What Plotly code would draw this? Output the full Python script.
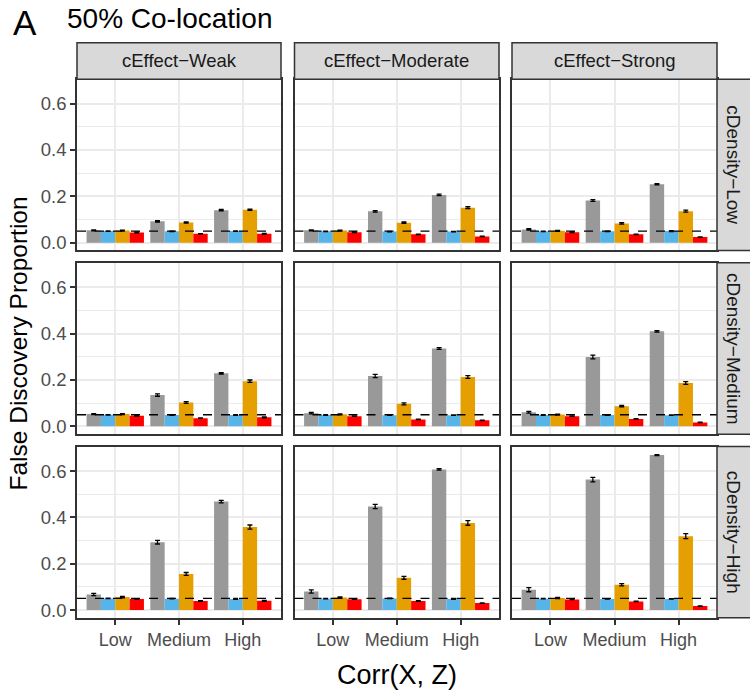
import plotly.graph_objects as go

# Factor levels
corr_levels = ["Low", "Medium", "High"]
effect_levels = ["cEffect\u2212Weak", "cEffect\u2212Moderate", "cEffect\u2212Strong"]
density_levels = ["cDensity\u2212Low", "cDensity\u2212Medium", "cDensity\u2212High"]

# False discovery proportion, indexed [density][effect][corr]
fdp_m1 = [
    [[0.053, 0.092, 0.140], [0.053, 0.135, 0.206], [0.057, 0.182, 0.252]],
    [[0.053, 0.135, 0.229], [0.057, 0.217, 0.336], [0.061, 0.299, 0.410]],
    [[0.067, 0.293, 0.468], [0.080, 0.447, 0.607], [0.088, 0.563, 0.669]],
]
fdp_m2 = [
    [[0.050, 0.049, 0.050], [0.049, 0.048, 0.048], [0.049, 0.049, 0.050]],
    [[0.050, 0.049, 0.049], [0.049, 0.048, 0.048], [0.049, 0.049, 0.048]],
    [[0.050, 0.049, 0.048], [0.049, 0.050, 0.048], [0.049, 0.048, 0.048]],
]
fdp_m3 = [
    [[0.052, 0.087, 0.142], [0.052, 0.086, 0.151], [0.051, 0.083, 0.136]],
    [[0.053, 0.103, 0.195], [0.052, 0.097, 0.213], [0.051, 0.087, 0.187]],
    [[0.056, 0.156, 0.358], [0.054, 0.139, 0.376], [0.052, 0.109, 0.319]],
]
fdp_m4 = [
    [[0.044, 0.038, 0.038], [0.045, 0.036, 0.027], [0.045, 0.036, 0.024]],
    [[0.046, 0.035, 0.039], [0.044, 0.030, 0.026], [0.044, 0.032, 0.017]],
    [[0.048, 0.039, 0.040], [0.047, 0.039, 0.030], [0.046, 0.037, 0.017]],
]

# Standard errors, same indexing
se_m1 = [
    [[0.002, 0.003, 0.003], [0.002, 0.003, 0.003], [0.003, 0.004, 0.003]],
    [[0.002, 0.005, 0.003], [0.003, 0.007, 0.004], [0.004, 0.008, 0.003]],
    [[0.005, 0.008, 0.005], [0.007, 0.009, 0.003], [0.009, 0.010, 0.002]],
]
se_m2 = [
    [[0.001, 0.001, 0.001], [0.001, 0.001, 0.001], [0.001, 0.001, 0.002]],
    [[0.001, 0.001, 0.002], [0.001, 0.001, 0.001], [0.001, 0.001, 0.001]],
    [[0.001, 0.001, 0.002], [0.001, 0.001, 0.002], [0.001, 0.001, 0.001]],
]
se_m3 = [
    [[0.002, 0.003, 0.003], [0.002, 0.003, 0.004], [0.002, 0.003, 0.004]],
    [[0.002, 0.004, 0.005], [0.002, 0.004, 0.006], [0.002, 0.003, 0.006]],
    [[0.003, 0.006, 0.009], [0.003, 0.006, 0.010], [0.003, 0.005, 0.011]],
]
se_m4 = [
    [[0.002, 0.001, 0.002], [0.002, 0.001, 0.001], [0.002, 0.001, 0.001]],
    [[0.002, 0.001, 0.002], [0.001, 0.001, 0.001], [0.001, 0.001, 0.001]],
    [[0.001, 0.002, 0.002], [0.001, 0.002, 0.001], [0.001, 0.001, 0.001]],
]

nominal_level = 0.05
y_ticks = [0.0, 0.2, 0.4, 0.6]

methods = [
    ("M1", fdp_m1, se_m1, "#999999"),
    ("M2", fdp_m2, se_m2, "#56B4E9"),
    ("M3", fdp_m3, se_m3, "#E69F00"),
    ("M4", fdp_m4, se_m4, "#FF0000"),
]

W, H = 750, 698
col_px = [(77, 281), (294.5, 499), (512, 717)]
row_px = [(79.5, 251.5), (264, 436), (448.5, 620.5)]
strip_top = (43, 79.5)
strip_right = (717, 750)

ymax = max(max(max(v) for v in row) for row in fdp_m1) + 0.003
pad = 0.05 * ymax
y_range = [-pad, ymax + pad]

FONT = "Liberation Sans"
BORDER = "#333333"
GRID = "#EBEBEB"

fig = go.Figure()
layout = {}
shapes = []
annotations = []

def px_x(x):
    return x / W

def px_y(y):
    return 1 - y / H

for r in range(3):
    for c in range(3):
        k = r * 3 + c + 1
        xa = "x" if k == 1 else f"x{k}"
        ya = "y" if k == 1 else f"y{k}"
        for name, vals, errs, color in methods:
            fig.add_trace(go.Bar(
                x=corr_levels,
                y=vals[r][c],
                name=name,
                offsetgroup=name,
                marker=dict(color=color, line=dict(width=0)),
                error_y=dict(type="data", array=errs[r][c], color="black",
                             thickness=1.3, width=2.5),
                xaxis=xa, yaxis=ya,
                showlegend=False,
            ))
        x0, x1 = col_px[c]
        y0, y1 = row_px[r]
        layout["xaxis" if k == 1 else f"xaxis{k}"] = dict(
            domain=[px_x(x0), px_x(x1)],
            anchor=ya,
            type="category",
            range=[-0.6, 2.6],
            showgrid=True, gridcolor=GRID, gridwidth=1.8,
            showline=True, mirror=True, linecolor=BORDER, linewidth=1.5,
            zeroline=False,
            ticks="outside" if r == 2 else "",
            ticklen=5, tickwidth=1.5, tickcolor=BORDER,
            showticklabels=(r == 2),
            tickfont=dict(family=FONT, size=18, color="#4D4D4D"),
            fixedrange=True,
        )
        layout["yaxis" if k == 1 else f"yaxis{k}"] = dict(
            domain=[px_y(y1), px_y(y0)],
            anchor=xa,
            range=y_range,
            tickvals=y_ticks,
            ticktext=[f"{v:.1f}" for v in y_ticks],
            showgrid=True, gridcolor=GRID, gridwidth=1.8,
            minor=dict(showgrid=True, gridcolor=GRID, gridwidth=0.9,
                       tickvals=[0.1, 0.3, 0.5]),
            showline=True, mirror=True, linecolor=BORDER, linewidth=1.5,
            zeroline=False,
            ticks="outside" if c == 0 else "",
            ticklen=5, tickwidth=1.5, tickcolor=BORDER,
            showticklabels=(c == 0),
            tickfont=dict(family=FONT, size=18.5, color="#4D4D4D"),
            fixedrange=True,
        )
        # nominal FDR reference line
        shapes.append(dict(
            type="line", xref=f"{xa} domain", yref=ya,
            x0=0, x1=1, y0=nominal_level, y1=nominal_level,
            line=dict(color="black", width=1.3, dash="dash"),
            layer="above",
        ))

# column strips
for c, label in enumerate(effect_levels):
    x0, x1 = col_px[c]
    shapes.append(dict(
        type="rect", xref="paper", yref="paper",
        x0=px_x(x0), x1=px_x(x1), y0=px_y(strip_top[1]), y1=px_y(strip_top[0]),
        fillcolor="#D9D9D9", line=dict(color=BORDER, width=1.5), layer="above",
    ))
    annotations.append(dict(
        text=label, xref="paper", yref="paper",
        x=px_x((x0 + x1) / 2), y=px_y((strip_top[0] + strip_top[1]) / 2),
        showarrow=False, xanchor="center", yanchor="middle",
        font=dict(family=FONT, size=18.5, color="#1A1A1A"),
    ))

# row strips
for r, label in enumerate(density_levels):
    y0, y1 = row_px[r]
    shapes.append(dict(
        type="rect", xref="paper", yref="paper",
        x0=px_x(strip_right[0]), x1=px_x(strip_right[1] + 2),
        y0=px_y(y1), y1=px_y(y0),
        fillcolor="#D9D9D9", line=dict(color=BORDER, width=1.5), layer="above",
    ))
    annotations.append(dict(
        text=label, xref="paper", yref="paper",
        x=px_x((strip_right[0] + strip_right[1]) / 2), y=px_y((y0 + y1) / 2),
        showarrow=False, xanchor="center", yanchor="middle", textangle=90,
        font=dict(family=FONT, size=19, color="#1A1A1A"),
    ))

# titles
annotations += [
    dict(text="A", xref="paper", yref="paper", x=px_x(11), y=px_y(23),
         showarrow=False, xanchor="left", yanchor="middle",
         font=dict(family=FONT, size=35, color="black")),
    dict(text="50% Co-location", xref="paper", yref="paper", x=px_x(65), y=px_y(19),
         showarrow=False, xanchor="left", yanchor="middle",
         font=dict(family=FONT, size=28, color="black")),
    dict(text="Corr(X, Z)", xref="paper", yref="paper",
         x=px_x((col_px[0][0] + col_px[2][1]) / 2), y=px_y(678),
         showarrow=False, xanchor="center", yanchor="middle",
         font=dict(family=FONT, size=27, color="black")),
    dict(text="False Discovery Proportion", xref="paper", yref="paper",
         x=px_x(19), y=px_y(345), textangle=-90,
         showarrow=False, xanchor="center", yanchor="middle",
         font=dict(family=FONT, size=24.5, color="black")),
]

fig.update_layout(
    width=W, height=H,
    margin=dict(l=0, r=0, t=0, b=0),
    paper_bgcolor="white", plot_bgcolor="white",
    barmode="group", bargap=0.1, bargroupgap=0,
    shapes=shapes, annotations=annotations,
    showlegend=False,
    **layout,
)

fig.write_html("out.html")
